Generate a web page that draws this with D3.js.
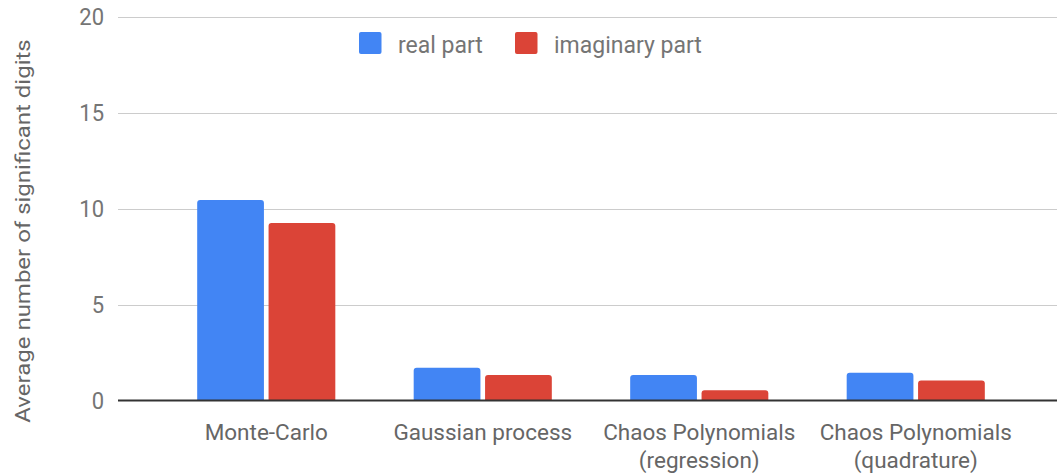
<!DOCTYPE html>
<html><head><meta charset="utf-8">
<script src="https://cdn.jsdelivr.net/npm/d3@7"></script>
<style>body{margin:0;background:#fff;} svg{display:block;font-family:Roboto,sans-serif;}</style>
</head><body><svg id="chart" width="1057" height="474"></svg>
<script>
const categories = [["Monte-Carlo"], ["Gaussian process"], ["Chaos Polynomials", "(regression)"], ["Chaos Polynomials", "(quadrature)"]];
const seriesNames = ["real part", "imaginary part"];
const realPart = [10.44, 1.71, 1.33, 1.44];
const imaginaryPart = [9.24, 1.33, 0.53, 1.04];
const yTicks = [0, 5, 10, 15, 20];
const colors = ["#4285F4", "#DB4437"];

const svg = d3.select("#chart");
const W = 1057, H = 474;
const y = d3.scaleLinear().domain([0, 20]).range([400.5, 16.5]);
const x0 = d3.scaleBand().domain(d3.range(categories.length)).range([158, 1024]).paddingInner(0.362).paddingOuter(0.181);
const x1 = d3.scaleBand().domain([0, 1]).range([0, x0.bandwidth()]).paddingInner(0.065);

// gridlines
svg.append("g").selectAll("line").data(yTicks.filter(d => d > 0)).join("line")
  .attr("x1", 118).attr("x2", W).attr("y1", d => Math.round(y(d)) + 0.5).attr("y2", d => Math.round(y(d)) + 0.5)
  .attr("stroke", "#cccccc").attr("stroke-width", 1);

// y tick labels
svg.append("g").selectAll("text").data(yTicks).join("text")
  .attr("text-anchor", "end")
  .attr("transform", d => `translate(104,${y(d) + 8.3}) scale(1,1.06)`)
  .attr("fill", "#757575").style("font-size", "22px").text(d => d);

// bars
const data = categories.map((c, i) => [realPart[i], imaginaryPart[i]]);
const rr = 3;
function barPath(x, yTop, w, yBase) {
  const r = Math.min(rr, (yBase - yTop));
  return `M${x},${yBase}V${yTop + r}Q${x},${yTop} ${x + r},${yTop}H${x + w - r}Q${x + w},${yTop} ${x + w},${yTop + r}V${yBase}Z`;
}
const groups = svg.append("g").selectAll("g").data(data).join("g")
  .attr("transform", (d, i) => `translate(${x0(i)},0)`);
groups.selectAll("path").data(d => d).join("path")
  .attr("d", (v, j) => barPath(x1(j), y(v), x1.bandwidth(), y(0)))
  .attr("fill", (v, j) => colors[j]);

// baseline
svg.append("line").attr("x1", 118).attr("x2", W).attr("y1", y(0)).attr("y2", y(0))
  .attr("stroke", "#333333").attr("stroke-width", 2);

// category labels
const xl = svg.append("g").selectAll("g").data(categories).join("g");
xl.each(function(lines, i) {
  const g = d3.select(this);
  lines.forEach((ln, k) => {
    g.append("text").attr("text-anchor", "middle").attr("fill", "#666666").style("font-size", "22.5px")
      .attr("x", x0(i) + x0.bandwidth() / 2).attr("y", 440 + k * 27.5)
      .text(ln);
  });
});

// y axis title
svg.append("text").attr("transform", "translate(23,231) rotate(-90) scale(1.2,1)")
  .attr("text-anchor", "middle").attr("dy", "0.35em").attr("fill", "#666666").style("font-size", "20px")
  .text("Average number of significant digits");

// legend
const legendX = [359, 515];
const lg = svg.append("g").selectAll("g").data(seriesNames).join("g")
  .attr("transform", (d, i) => `translate(${legendX[i]},32)`);
lg.append("rect").attr("width", 22.5).attr("height", 22).attr("rx", 2).attr("fill", (d, i) => colors[i]);
lg.append("text").attr("transform", "translate(39,20.5) scale(1,1.05)").attr("fill", "#757575").style("font-size", "23px").text(d => d);
</script></body></html>
